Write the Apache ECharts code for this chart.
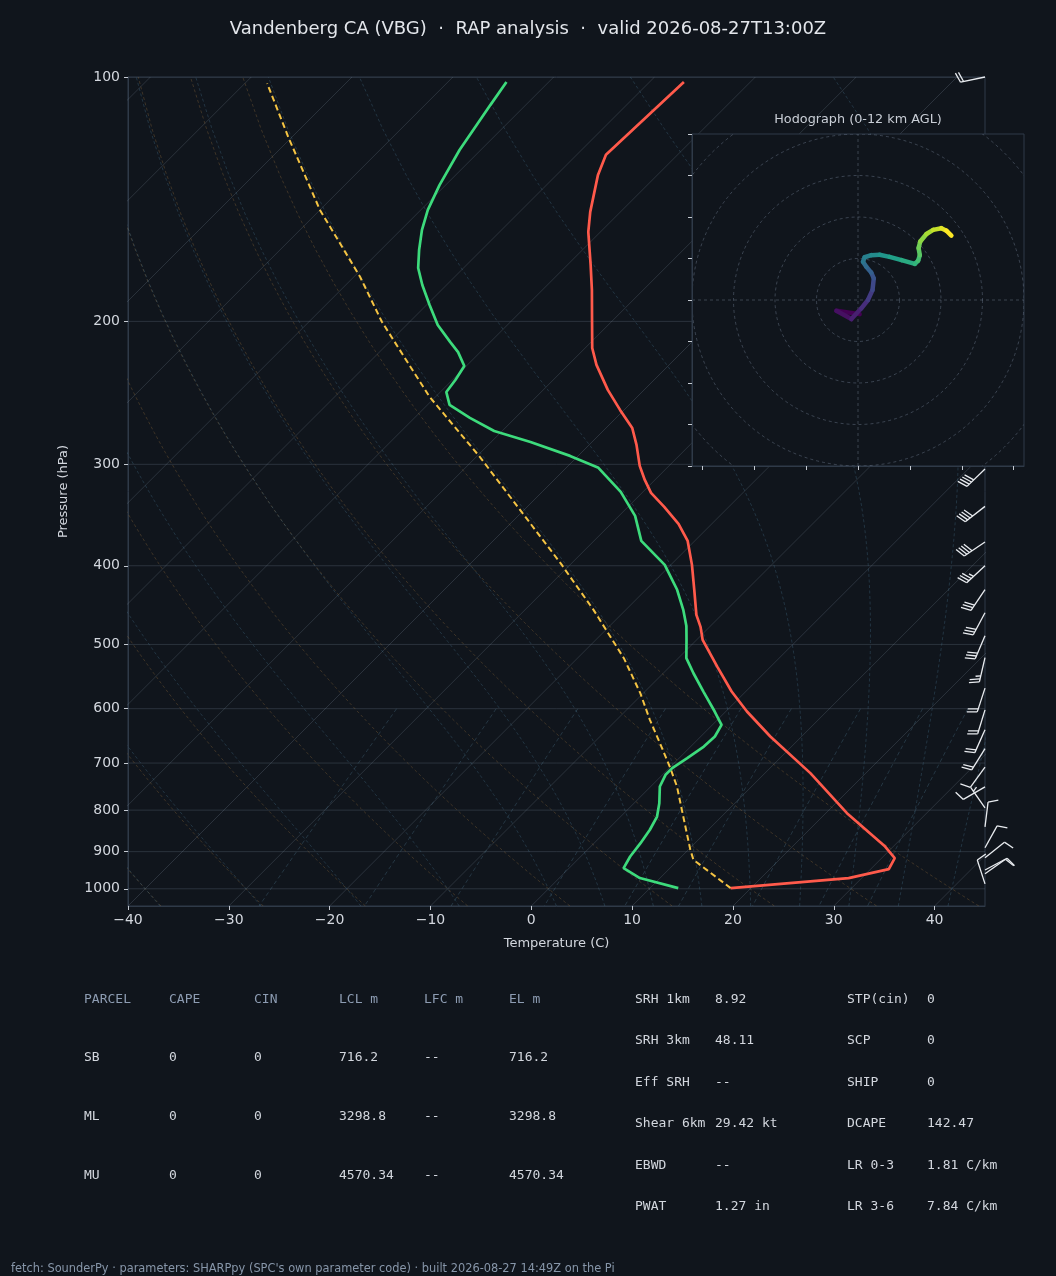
<!DOCTYPE html>
<html><head><meta charset="utf-8">
<script src="https://cdn.jsdelivr.net/npm/echarts@6/dist/echarts.min.js"></script>
<style>html,body{margin:0;padding:0;background:#10151c;}#c{width:1056px;height:1276px;}</style>
</head><body><div id="c"></div>
<script>
// ---------------- data ----------------
const titleText = 'Vandenberg CA (VBG)  \u00b7  RAP analysis  \u00b7  valid 2026-08-27T13:00Z';
const pressureTicks = [100, 200, 300, 400, 500, 600, 700, 800, 900, 1000];
const tempTicks = [-40, -30, -20, -10, 0, 10, 20, 30, 40];

const tempP = [101.4,124.7,132.0,146.6,155.2,170.4,182.9,199.2,215.7,226.3,242.9,257.1,270.6,283.9,301.3,313.6,325.3,338.5,355.2,372.8,399.0,428.2,459.8,475.7,493.6,532.5,571.5,604.8,649.3,720.3,806.9,887.1,916.7,945.7,970.0,998.0];
const tempC = [-66.6,-67.1,-65.9,-63.0,-61.2,-57.7,-55.1,-52.1,-49.3,-47.2,-43.6,-40.4,-37.4,-35.3,-32.9,-31.0,-29.1,-26.4,-23.3,-20.7,-17.9,-15.2,-12.5,-10.9,-9.4,-5.3,-1.4,2.1,6.9,14.5,22.1,29.2,31.3,31.8,28.7,18.0];

const dewP = [101.4,108.3,123.0,135.9,145.8,154.3,163.3,171.9,180.4,190.9,202.1,212.0,218.2,227.0,236.2,244.4,253.5,263.0,272.9,281.6,292.9,303.0,324.4,347.2,372.8,399.0,428.2,453.3,474.4,493.6,519.9,542.6,571.5,604.8,628.1,649.3,668.0,690.3,710.1,723.7,748.2,784.4,814.7,845.8,878.6,912.5,943.1,970.0,998.0];
const dewC = [-84.2,-83.5,-82.1,-80.6,-79.3,-77.9,-76.2,-74.5,-72.4,-69.7,-66.9,-64.0,-62.2,-60.2,-59.7,-59.4,-57.8,-54.5,-50.8,-46.1,-40.8,-36.8,-32.2,-28.4,-25.3,-20.6,-16.9,-14.3,-12.4,-11.0,-9.2,-7.0,-4.2,-1.1,0.9,1.4,1.3,0.8,0.3,0.3,0.9,2.5,3.6,4.2,4.6,4.9,5.4,8.0,12.8];

const parcelP = [998.0,921.0,895.3,814.7,748.2,707.0,661.5,619.3,574.1,519.9,453.3,397.1,341.4,293.5,247.7,200.1,176.2,145.8,118.5,101.8];
const parcelC = [18.0,11.5,10.2,6.2,2.6,-0.1,-3.4,-6.7,-10.3,-15.4,-23.2,-31.1,-40.4,-49.7,-60.6,-72.8,-79.4,-90.0,-100.4,-107.8];

const barbP   = [100, 304, 338, 374, 400, 428, 457, 488, 519, 566, 602, 637, 672, 708, 749, 795, 839, 890, 916, 948, 958, 986];
const barbDir = [258, 226, 232, 236, 227, 214, 208, 203, 193, 198, 197, 204, 212, 216, 240, 325, 7, 29, 51, 62, 55, 342];
const barbSpd = [20, 40, 40, 40, 35, 30, 30, 30, 25, 20, 20, 20, 20, 10, 10, 5, 10, 10, 10, 10, 10, 10];

const hodoU = [0.4,-5.2,-1.6,0.8,2.4,3.5,3.8,3.2,2.0,1.2,1.6,3.2,5.2,7.6,10.5,13.7,14.5,14.9,14.6,15.0,16.5,18.1,20.1,21.3,22.5];
const hodoV = [-3.4,-2.6,-4.6,-2.0,0.0,2.4,5.2,6.6,8.0,9.2,10.3,10.8,10.9,10.4,9.6,8.7,9.5,10.8,12.5,14.1,15.9,16.9,17.3,16.7,15.5];
const hodoRings = [10, 20, 30, 40, 50];
const hodoXTicks = [-37.5, -25, -12.5, 0, 12.5, 25, 37.5];

const parcelHeader = ['PARCEL', 'CAPE', 'CIN', 'LCL m', 'LFC m', 'EL m'];
const parcelRows = [
  ['SB', '0', '0', '716.2', '--', '716.2'],
  ['ML', '0', '0', '3298.8', '--', '3298.8'],
  ['MU', '0', '0', '4570.34', '--', '4570.34']
];
const paramLabelsA = ['SRH 1km', 'SRH 3km', 'Eff SRH', 'Shear 6km', 'EBWD', 'PWAT'];
const paramValuesA = ['8.92', '48.11', '--', '29.42 kt', '--', '1.27 in'];
const paramLabelsB = ['STP(cin)', 'SCP', 'SHIP', 'DCAPE', 'LR 0-3', 'LR 3-6'];
const paramValuesB = ['0', '0', '0', '142.47', '1.81 C/km', '7.84 C/km'];
const footerText = "fetch: SounderPy \u00b7 parameters: SHARPpy (SPC's own parameter code) \u00b7 built 2026-08-27 14:49Z on the Pi";

// ---------------- layout / style ----------------
const BG = '#10151c';
const GRID = {left: 128, top: 77, width: 857, height: 829};
const X_MIN = -40, X_MAX = 45, P_TOP = 100, P_BOT = 1050;
const HGRID = {left: 692, top: 134, width: 332, height: 332};
const H_MIN = -40, H_MAX = 40;
const SPINE = '#2f3a48';
const TXT = '#d3d7de';
const FONT = '"DejaVu Sans", sans-serif';
const MONO = '"DejaVu Sans Mono", monospace';
const viridis = ['#440154','#482878','#3e4989','#31688e','#26828e','#1f9e89','#35b779','#6ece58','#b5de2b','#fde725'];

// skew: 45 degrees in screen space, expressed in degC per decade of pressure
const SKEW = (GRID.height / Math.log10(P_BOT / P_TOP)) / (GRID.width / (X_MAX - X_MIN));
const skewX = (t, p) => t + SKEW * Math.log10(P_BOT / p);
const skewed = (ps, ts) => ps.map((p, i) => [skewX(ts[i], p), p]);

// thermodynamic reference lines (MetPy defaults)
const Rd = 287.04, Cp = 1005.7, Lv = 2.501e6, EPS = 0.622;
const es = tc => 6.112 * Math.exp(17.67 * tc / (tc + 243.5));
function dTdp(T, p) {
  const e = es(T - 273.15); const r = EPS * e / Math.max(p - e, 1e-6);
  return (1 / p) * (Rd * T + Lv * r) / (Cp + (Lv * Lv * r * EPS) / (Rd * T * T));
}
function moistAt(t0, p) {
  let T = t0 + 273.15, pc = 1000;
  const n = Math.max(1, Math.ceil(Math.abs(p - 1000) / 4)); const h = (p - 1000) / n;
  for (let i = 0; i < n; i++) {
    const k1 = dTdp(T, pc), k2 = dTdp(T + h / 2 * k1, pc + h / 2), k3 = dTdp(T + h / 2 * k2, pc + h / 2), k4 = dTdp(T + h * k3, pc + h);
    T += h / 6 * (k1 + 2 * k2 + 2 * k3 + k4); pc += h;
  }
  return T - 273.15;
}
const pLevels = []; for (let i = 0; i <= 60; i++) pLevels.push(P_BOT - (P_BOT - P_TOP) * i / 60);
const pMix = []; for (let i = 0; i <= 30; i++) pMix.push(600 + (P_BOT - 600) * i / 30);
const dryT0 = []; for (let t = -40; t <= 40; t += 10) dryT0.push(t);
const moistT0 = [-40, -30, -20, -10, 0, 5, 10, 15, 20, 25, 30, 35, 40, 45];
const mixW = [0.0004, 0.001, 0.002, 0.004, 0.007, 0.01, 0.016, 0.024, 0.032];
const isoT = []; for (let t = -130; t <= 40; t += 10) isoT.push(t);

const series = [];
function refLine(data, color, dash, width) {
  series.push({type: 'line', xAxisIndex: 0, yAxisIndex: 0, data, showSymbol: false, symbol: 'none', silent: true,
    animation: false, clip: true, z: 1, lineStyle: {color, width: width || 0.9, type: dash || 'solid'}, emphasis: {disabled: true}});
}
isoT.forEach(t => refLine([[skewX(t, P_BOT), P_BOT], [skewX(t, P_TOP), P_TOP]], 'rgba(125,140,158,0.28)', 'solid', 0.9));
dryT0.forEach(t0 => refLine(pLevels.map(p => [skewX((t0 + 273.15) * Math.pow(p / 1000, Rd / Cp) - 273.15, p), p]), 'rgba(150,112,62,0.38)', [3, 2.5]));
moistT0.forEach(t0 => refLine(pLevels.map(p => [skewX(moistAt(t0, p), p), p]), 'rgba(70,115,140,0.38)', [3, 2.5]));
mixW.forEach(w => refLine(pMix.map(p => { const e = p * w / (EPS + w); const l = Math.log(e / 6.112); return [skewX(243.5 * l / (17.67 - l), p), p]; }), 'rgba(80,120,145,0.38)', [4, 3]));

// isobars (horizontal grid)
series.push({type: 'custom', xAxisIndex: 0, yAxisIndex: 0, z: 1, silent: true, clip: true, animation: false,
  data: pressureTicks.map(p => [X_MIN, p]), encode: {x: 0, y: 1},
  renderItem: (params, api) => {
    const p = api.value(1); const a = api.coord([X_MIN, p]); const b = api.coord([X_MAX, p]);
    return {type: 'line', shape: {x1: a[0], y1: a[1], x2: b[0], y2: b[1]}, style: {stroke: 'rgba(125,140,158,0.25)', lineWidth: 1}};
  }});

// profiles
series.push({name: 'Temperature', type: 'line', xAxisIndex: 0, yAxisIndex: 0, data: skewed(tempP, tempC), showSymbol: false, z: 4,
  clip: true, lineStyle: {color: '#ff5a4b', width: 2.7}, animation: false});
series.push({name: 'Dewpoint', type: 'line', xAxisIndex: 0, yAxisIndex: 0, data: skewed(dewP, dewC), showSymbol: false, z: 4,
  clip: true, lineStyle: {color: '#3ddb7c', width: 2.7}, animation: false});
series.push({name: 'Parcel', type: 'line', xAxisIndex: 0, yAxisIndex: 0, data: skewed(parcelP, parcelC), showSymbol: false, z: 3,
  clip: true, lineStyle: {color: '#f5c443', width: 2, type: [6, 3.5]}, animation: false});

// wind barbs
const BARB = '#e9ecf0';
series.push({type: 'custom', xAxisIndex: 0, yAxisIndex: 0, z: 5, clip: false, silent: true, animation: false,
  data: barbP.map((p, i) => [X_MAX, p, barbDir[i], barbSpd[i]]), encode: {x: 0, y: 1},
  renderItem: (params, api) => {
    const base = api.coord([api.value(0), api.value(1)]);
    const d = api.value(2) * Math.PI / 180; const spd = Math.round(api.value(3) / 5) * 5;
    const L = 25, H = 0.4 * L, W = 0.25 * L, S = 0.125 * L;
    const dx = Math.sin(d), dy = -Math.cos(d); const px = -dy, py = dx;
    const P = (o, h, w) => [base[0] + (o + w) * dx + h * px, base[1] + (o + w) * dy + h * py];
    const st = {stroke: BARB, lineWidth: 1.3, fill: 'none'};
    const kids = [];
    const t = P(L, 0, 0);
    kids.push({type: 'line', shape: {x1: base[0], y1: base[1], x2: t[0], y2: t[1]}, style: st});
    let rem = spd; const nf = Math.floor(rem / 50); rem -= nf * 50; const nb = Math.floor(rem / 10); rem -= nb * 10; const half = rem >= 5;
    let off = L;
    for (let i = 0; i < nf; i++) {
      kids.push({type: 'polygon', shape: {points: [P(off, 0, 0), P(off, H, -W / 2), P(off, 0, -W)]}, style: {fill: BARB, stroke: BARB, lineWidth: 1}});
      off -= W + S;
    }
    for (let i = 0; i < nb; i++) {
      const a = P(off, 0, 0), b = P(off, H, W / 2);
      kids.push({type: 'line', shape: {x1: a[0], y1: a[1], x2: b[0], y2: b[1]}, style: st});
      off -= S;
    }
    if (half) {
      if (off === L) off -= 1.5 * S;
      const a = P(off, 0, 0), b = P(off, H / 2, W / 4);
      kids.push({type: 'line', shape: {x1: a[0], y1: a[1], x2: b[0], y2: b[1]}, style: st});
    }
    return {type: 'group', children: kids};
  }});

// hodograph rings + crosshair
const HODO_LINE = 'rgba(110,125,145,0.45)';
series.push({type: 'custom', xAxisIndex: 1, yAxisIndex: 1, z: 12, clip: true, silent: true, animation: false,
  data: hodoRings.map(r => [0, 0, r]), encode: {x: 0, y: 1},
  renderItem: (params, api) => {
    const c = api.coord([0, 0]); const r = api.size([api.value(2), 0])[0];
    const kids = [{type: 'circle', shape: {cx: c[0], cy: c[1], r}, style: {fill: 'none', stroke: HODO_LINE, lineWidth: 1, lineDash: [3, 3]}}];
    if (params.dataIndex === 0) {
      const a = api.coord([0, H_MIN]), b = api.coord([0, H_MAX]), e = api.coord([H_MIN, 0]), f = api.coord([H_MAX, 0]);
      kids.push({type: 'line', shape: {x1: a[0], y1: a[1], x2: b[0], y2: b[1]}, style: {stroke: HODO_LINE, lineWidth: 1, lineDash: [3, 3]}});
      kids.push({type: 'line', shape: {x1: e[0], y1: e[1], x2: f[0], y2: f[1]}, style: {stroke: HODO_LINE, lineWidth: 1, lineDash: [3, 3]}});
    }
    return {type: 'group', children: kids};
  }});

// hodograph trace: colour-mapped segments (viridis along the profile)
const nH = hodoU.length;
series.push({name: 'Hodograph', type: 'custom', xAxisIndex: 1, yAxisIndex: 1, z: 13, clip: true, silent: true, animation: false,
  data: hodoU.map((u, i) => [u, hodoV[i], i]), encode: {x: 0, y: 1},
  renderItem: (params, api) => {
    const i = params.dataIndex;
    if (i >= nH - 1) return null;
    const a = api.coord([hodoU[i], hodoV[i]]);
    const b = api.coord([hodoU[i + 1], hodoV[i + 1]]);
    const col = echarts.color.lerp(i / (nH - 2), viridis);
    return {type: 'line', shape: {x1: a[0], y1: a[1], x2: b[0], y2: b[1]},
      style: {stroke: col, lineWidth: 4.5, lineCap: 'round', lineJoin: 'round'}};
  }});

// ---------------- texts ----------------
const graphic = [];
function txt(x, y, text, font, fill, align) {
  graphic.push({type: 'text', x, y, z: 30, silent: true,
    style: {text, font, fill, align: align || 'left', verticalAlign: 'middle', textAlign: align || 'left', textVerticalAlign: 'middle'}});
}
const colX = [84, 169, 254, 339, 424, 509];
parcelHeader.forEach((h, i) => txt(colX[i], 1000, h, '13px ' + MONO, '#8d9cb2'));
const rowY = [1058, 1117, 1176];
parcelRows.forEach((r, j) => r.forEach((v, i) => txt(colX[i], rowY[j], v, '13px ' + MONO, TXT)));
const pRowY = [1000, 1041, 1083, 1124, 1166, 1207];
paramLabelsA.forEach((l, j) => { txt(635, pRowY[j], l, '13px ' + MONO, TXT); txt(715, pRowY[j], paramValuesA[j], '13px ' + MONO, TXT); });
paramLabelsB.forEach((l, j) => { txt(847, pRowY[j], l, '13px ' + MONO, TXT); txt(927, pRowY[j], paramValuesB[j], '13px ' + MONO, TXT); });
txt(11, 1269, footerText, '11.4px ' + FONT, '#8796a9');
txt(858, 120, 'Hodograph (0-12 km AGL)', '12.8px ' + FONT, '#c9ced6', 'center');

const minus = v => (v < 0 ? '\u2212' + Math.abs(v) : String(v));

const option = {
  backgroundColor: BG,
  animation: false,
  title: {text: titleText, left: 'center', top: 15, textStyle: {color: '#e3e6eb', fontSize: 18, fontWeight: 'normal', fontFamily: FONT}},
  grid: [
    Object.assign({show: true, borderColor: SPINE, borderWidth: 1, backgroundColor: 'transparent', containLabel: false}, GRID),
    Object.assign({show: true, borderColor: SPINE, borderWidth: 1, backgroundColor: BG, z: 10, containLabel: false}, HGRID)
  ],
  xAxis: [
    {gridIndex: 0, type: 'value', min: X_MIN, max: X_MAX, interval: 10, position: 'bottom',
     name: 'Temperature (C)', nameLocation: 'middle', nameGap: 31, nameTextStyle: {color: TXT, fontSize: 13, fontFamily: FONT},
     axisLine: {onZero: false, lineStyle: {color: SPINE}},
     axisTick: {show: true, length: 4, customValues: tempTicks, lineStyle: {color: '#c5cad2'}},
     axisLabel: {color: TXT, fontSize: 14, fontFamily: FONT, margin: 7, customValues: tempTicks, formatter: minus},
     splitLine: {show: false}},
    {gridIndex: 1, type: 'value', min: H_MIN, max: H_MAX, z: 12,
     axisLine: {onZero: false, lineStyle: {color: SPINE}},
     axisTick: {show: true, length: 4, customValues: hodoXTicks, lineStyle: {color: '#c5cad2'}},
     axisLabel: {show: false}, splitLine: {show: false}}
  ],
  yAxis: [
    {gridIndex: 0, type: 'log', logBase: 10, min: P_TOP, max: P_BOT, inverse: true,
     name: 'Pressure (hPa)', nameLocation: 'middle', nameGap: 58, nameRotate: 90, nameTextStyle: {color: TXT, fontSize: 13, fontFamily: FONT},
     axisLine: {onZero: false, lineStyle: {color: SPINE}},
     axisTick: {show: true, length: 4, customValues: pressureTicks, lineStyle: {color: '#c5cad2'}},
     axisLabel: {color: TXT, fontSize: 14, fontFamily: FONT, margin: 8, customValues: pressureTicks, formatter: v => String(Math.round(v))},
     splitLine: {show: false}},
    {gridIndex: 1, type: 'value', min: H_MIN, max: H_MAX, interval: 10, z: 12,
     axisLine: {onZero: false, lineStyle: {color: SPINE}},
     axisTick: {show: true, length: 4, lineStyle: {color: '#c5cad2'}},
     axisLabel: {show: false}, splitLine: {show: false}}
  ],
  graphic,
  series
};
const chart = echarts.init(document.getElementById('c'), null, {renderer: 'canvas'});
chart.setOption(option);
</script></body></html>
